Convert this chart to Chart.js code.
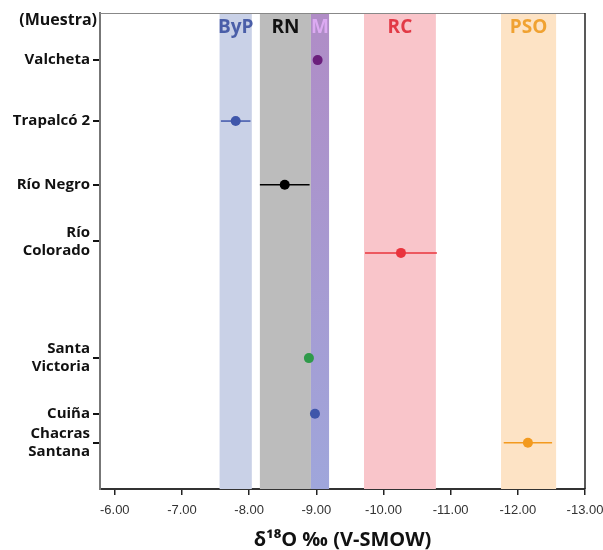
<!DOCTYPE html>
<html>
<head>
<meta charset="utf-8">
<script src="https://cdn.jsdelivr.net/npm/chart.js@4"></script>
<style>
  body { margin: 0; background: #fff; }
  #wrap { width: 603px; height: 550px; }
</style>
</head>
<body>
<div id="wrap"><canvas id="myChart" width="603" height="550"></canvas></div>
<script>
// samples (top to bottom)
const samples = ['Valcheta', 'Trapalcó 2', 'Río Negro', ['Río', 'Colorado'], ['Santa', 'Victoria'], 'Cuiña', ['Chacras', 'Santana']];
const d18O = [-9.02, -7.80, -8.53, -10.26, -8.89, -8.98, -12.15];
const d18Oerr = [0, 0.22, 0.37, 0.535, 0, 0, 0.36];
const rowPos = [0.99, 2.27, 3.61, 5.04, 7.25, 8.42, 9.03];   // vertical slot of each sample
const labelPos = [0.99, 2.27, 3.61, 4.8, 7.25, 8.42, 9.03];
const pointColors = ['#6b1f7c', '#3f56aa', '#000000', '#e9343d', '#2f9a4a', '#3f56aa', '#f39a1e'];

// reference ranges
const bandNames = ['ByP', 'RN', 'M', 'RC', 'PSO'];
const bandFrom = [-7.56, -8.16, -8.92, -9.71, -11.75];
const bandTo = [-8.04, -8.92, -9.19, -10.78, -12.57];
const bandFill = ['#c9d1e7', '#bcbcbc', 'grad', '#f9c5ca', '#fde3c5'];
const bandText = ['#4a5ea8', '#111111', '#dcaaf2', '#e23a46', '#f0a232'];

const xTicks = [-6, -7, -8, -9, -10, -11, -12, -13];

const bandsPlugin = {
  id: 'bands',
  beforeDatasetsDraw(chart) {
    const {ctx, chartArea: a, scales: {x}} = chart;
    ctx.save();
    bandNames.forEach((n, i) => {
      const x1 = x.getPixelForValue(bandFrom[i]);
      const x2 = x.getPixelForValue(bandTo[i]);
      let fill = bandFill[i];
      if (fill === 'grad') {
        fill = ctx.createLinearGradient(0, a.top, 0, a.bottom);
        fill.addColorStop(0, '#b08cc6');
        fill.addColorStop(1, '#9fa6db');
      }
      ctx.fillStyle = fill;
      ctx.fillRect(Math.min(x1, x2), a.top, Math.abs(x2 - x1), a.bottom - a.top);
    });
    bandNames.forEach((n, i) => {
      const xc = (x.getPixelForValue(bandFrom[i]) + x.getPixelForValue(bandTo[i])) / 2;
      ctx.fillStyle = bandText[i];
      ctx.font = 'bold 19px "Open Sans", sans-serif';
      ctx.textAlign = 'center';
      ctx.textBaseline = 'middle';
      ctx.fillText(n, xc, 28);
    });
    // error bars
    const y = chart.scales.y;
    d18O.forEach((v, i) => {
      if (!d18Oerr[i]) return;
      ctx.strokeStyle = pointColors[i];
      ctx.lineWidth = 1.5;
      ctx.beginPath();
      const py = y.getPixelForValue(rowPos[i]);
      ctx.moveTo(x.getPixelForValue(v - d18Oerr[i]), py);
      ctx.lineTo(x.getPixelForValue(v + d18Oerr[i]), py);
      ctx.stroke();
    });
    ctx.restore();
  },
  afterDraw(chart) {
    const {ctx, chartArea: a} = chart;
    ctx.save();
    ctx.strokeStyle = '#888';
    ctx.lineWidth = 1;
    ctx.beginPath();
    ctx.moveTo(a.left, a.top + 0.5);
    ctx.lineTo(a.right, a.top + 0.5);
    ctx.stroke();
    ctx.strokeStyle = '#222';
    ctx.lineWidth = 1.5;
    ctx.beginPath();
    ctx.moveTo(a.right, a.top);
    ctx.lineTo(a.right, a.bottom);
    ctx.stroke();
    ctx.fillStyle = '#111';
    ctx.font = 'bold 16px "Open Sans", sans-serif';
    ctx.textAlign = 'right';
    ctx.textBaseline = 'middle';
    ctx.fillText('(Muestra)', 97, 20);
    ctx.restore();
  }
};

let myChart = document.getElementById('myChart').getContext('2d');

let isoChart = new Chart(myChart, {
  type: 'scatter',
  data: {
    datasets: [{
      data: d18O.map((v, i) => ({x: v, y: rowPos[i]})),
      pointBackgroundColor: pointColors,
      pointBorderWidth: 0,
      pointRadius: 5,
      pointHoverRadius: 5
    }]
  },
  options: {
    responsive: false,
    animation: false,
    layout: { padding: { left: 0, right: 18, top: 13, bottom: 0 } },
    plugins: { legend: { display: false }, tooltip: { enabled: false } },
    scales: {
      x: {
        type: 'linear',
        reverse: true,
        min: -13,
        max: -5.78,
        afterBuildTicks: s => { s.ticks = xTicks.map(v => ({value: v})); },
        afterFit: s => { s.height = 61; s.paddingLeft = 0; s.paddingRight = 0; },
        grid: { drawOnChartArea: false, drawTicks: true, tickLength: 6, color: '#222', lineWidth: 1.5 },
        border: { color: '#333', width: 2 },
        ticks: {
          padding: 8,
          color: '#333',
          font: { family: '"Liberation Sans Narrow", "Liberation Sans", sans-serif', size: 13 },
          callback: v => v.toFixed(2)
        },
        title: {
          display: true,
          text: 'δ¹⁸O ‰ (V-SMOW)',
          color: '#111',
          font: { family: '"Open Sans", sans-serif', size: 20, weight: 'bold', lineHeight: 1 },
          padding: { top: 0, bottom: 0 }
        }
      },
      y: {
        type: 'linear',
        reverse: true,
        min: 0,
        max: 10,
        afterBuildTicks: s => { s.ticks = labelPos.map(v => ({value: v})); },
        afterFit: s => { s.width = 100; s.paddingTop = 0; s.paddingBottom = 0; },
        grid: { drawOnChartArea: false, drawTicks: true, tickLength: 7, color: '#111', lineWidth: 2 },
        border: { color: '#777', width: 2 },
        ticks: {
          padding: 3,
          color: '#111',
          font: { family: '"Open Sans", sans-serif', size: 15, weight: 'bold', lineHeight: 1.2 },
          callback: (v, i) => samples[i]
        }
      }
    }
  },
  plugins: [bandsPlugin]
});
</script>
</body>
</html>
